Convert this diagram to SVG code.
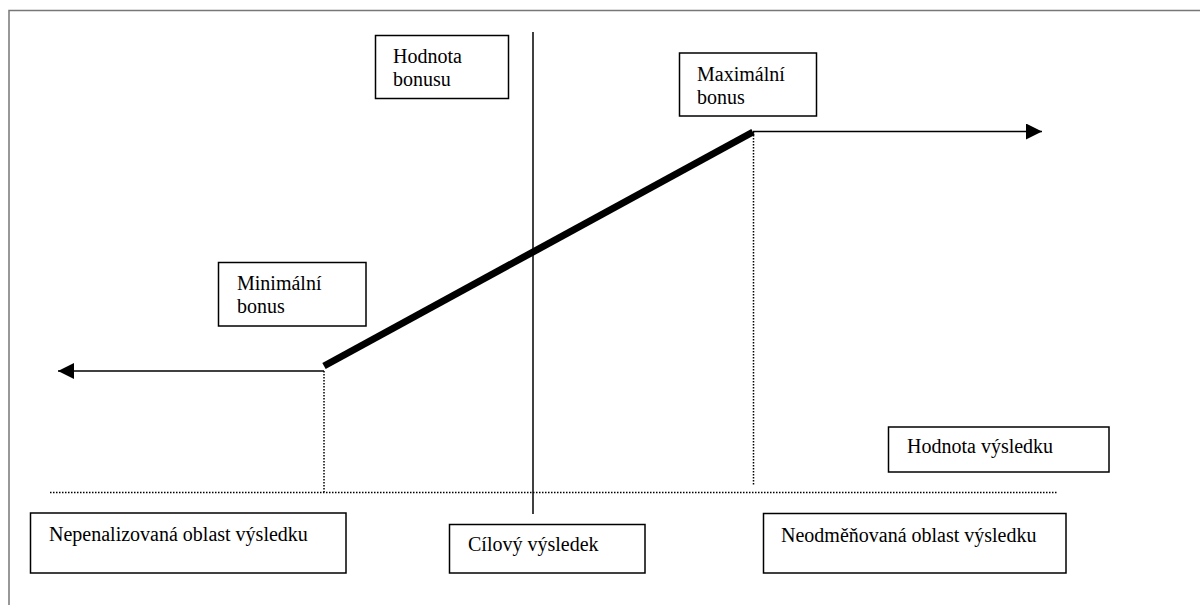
<svg xmlns="http://www.w3.org/2000/svg" width="1200" height="605" viewBox="0 0 1200 605">
<defs>
<style>
.box{fill:#fff;stroke:#000;stroke-width:1.5}
.t{font-family:"Liberation Serif","Times New Roman",serif;font-size:20px;fill:#000}
.dot{stroke:#000;stroke-width:1.5;stroke-dasharray:1.5 1.5;fill:none}
.ln{stroke:#000;stroke-width:1.5;fill:none}
</style>
<marker id="ah" viewBox="0 0 10 10" refX="10" refY="5" markerWidth="16" markerHeight="16" markerUnits="userSpaceOnUse" orient="auto">
<path d="M0,0 L10,5 L0,10 Z" fill="#000"/>
</marker>
</defs>
<rect width="1200" height="605" fill="#fff"/>
<path d="M9,605 V10.5 H1200" fill="none" stroke="#777" stroke-width="1.5"/>
<g id="connectors">
<line class="ln" x1="533" y1="32" x2="533" y2="514"/>
<line class="dot" x1="50" y1="492.5" x2="1057" y2="492.5"/>
<line class="dot" x1="324" y1="371" x2="324" y2="492"/>
<line class="dot" x1="753.5" y1="132" x2="753.5" y2="486"/>
<line class="ln" x1="324" y1="371" x2="58" y2="371" marker-end="url(#ah)"/>
<line class="ln" x1="753" y1="131.5" x2="1042" y2="131.5" marker-end="url(#ah)"/>
<line x1="324" y1="366" x2="753" y2="132" stroke="#000" stroke-width="7"/>
</g>
<g id="hodnota-bonusu">
<rect class="box" x="375.5" y="35.5" width="133" height="63"/>
<text class="t" x="393" y="63">Hodnota</text>
<text class="t" x="393" y="86">bonusu</text>
</g>
<g id="maximalni-bonus">
<rect class="box" x="679.5" y="53" width="137" height="63"/>
<text class="t" x="697" y="81">Maximální</text>
<text class="t" x="697" y="103.5">bonus</text>
</g>
<g id="minimalni-bonus">
<rect class="box" x="218.5" y="262.5" width="147.5" height="63.5"/>
<text class="t" x="237" y="290">Minimální</text>
<text class="t" x="237" y="312.5">bonus</text>
</g>
<g id="hodnota-vysledku">
<rect class="box" x="888.5" y="427" width="220.5" height="45"/>
<text class="t" x="907" y="453">Hodnota výsledku</text>
</g>
<g id="nepenalizovana">
<rect class="box" x="30.5" y="513" width="315.5" height="60"/>
<text class="t" x="49" y="541">Nepenalizovaná oblast výsledku</text>
</g>
<g id="cilovy">
<rect class="box" x="449.5" y="524.5" width="195.5" height="48.5"/>
<text class="t" x="468" y="551">Cílový výsledek</text>
</g>
<g id="neodmenovana">
<rect class="box" x="763.5" y="513.5" width="302.5" height="59.5"/>
<text class="t" x="781" y="541.5">Neodměňovaná oblast výsledku</text>
</g>
</svg>
